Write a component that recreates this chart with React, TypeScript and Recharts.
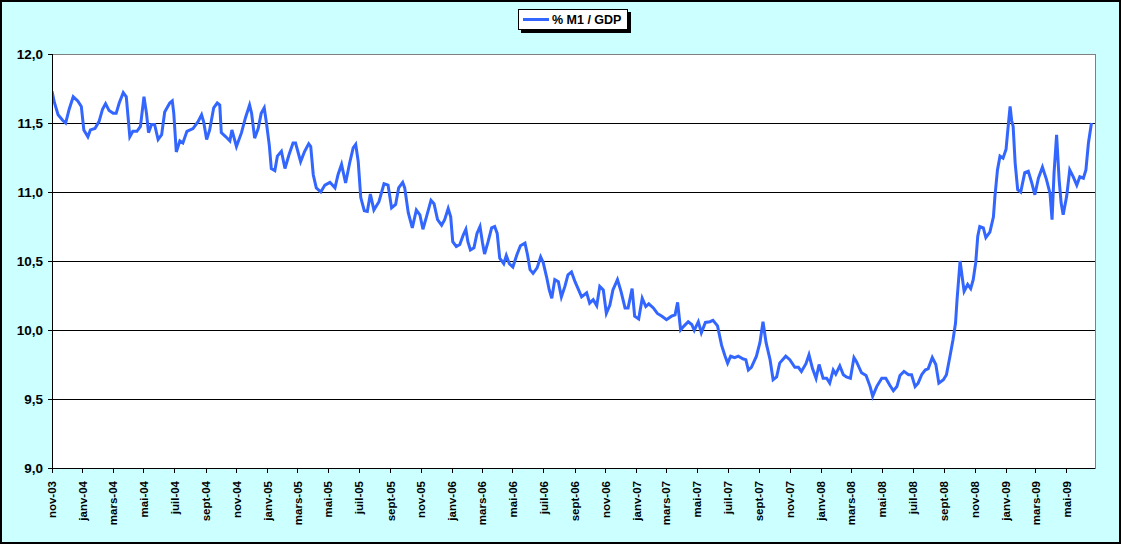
import React from "react";
import {
  LineChart,
  Line,
  XAxis,
  YAxis,
  ReferenceArea,
  ReferenceLine,
  Legend,
} from "recharts";

// Start date of the series (day 0) : 1 November 2003
const START_UTC = Date.UTC(2003, 10, 1);
const END_DAY = 2064;

// Observation dates, in days since 1 Nov 2003
const dayOffsets = [
  0, 5, 12, 21, 27, 34, 42, 51, 58, 63, 71, 76, 85, 93, 100, 106, 113, 121, 127, 133,
  141, 147, 154, 160, 168, 175, 182, 187, 191, 197, 203, 210, 217, 223, 233, 238, 241, 246, 253, 259,
  267, 279, 289, 296, 300, 306, 312, 320, 327, 332, 335, 344, 352, 356, 365, 375, 383, 391, 395, 401,
  408, 414, 420, 424, 430, 434, 441, 446, 454, 461, 469, 477, 482, 492, 500, 508, 512, 517, 523, 532,
  540, 550, 560, 566, 573, 581, 589, 596, 601, 606, 611, 618, 624, 630, 637, 647, 657, 665, 672, 680,
  686, 694, 698, 705, 713, 721, 728, 734, 741, 750, 756, 763, 771, 777, 784, 789, 793, 800, 807, 814,
  819, 823, 828, 835, 841, 847, 852, 856, 863, 870, 876, 881, 886, 894, 899, 905, 912, 920, 927, 936,
  941, 946, 952, 960, 967, 972, 979, 984, 989, 995, 1002, 1008, 1015, 1021, 1028, 1035, 1041, 1048, 1058, 1064,
  1071, 1078, 1084, 1091, 1097, 1104, 1110, 1119, 1126, 1134, 1140, 1148, 1153, 1161, 1168, 1175, 1181, 1190, 1198, 1207,
  1216, 1226, 1233, 1238, 1244, 1251, 1259, 1266, 1271, 1279, 1285, 1293, 1302, 1308, 1317, 1325, 1332, 1337, 1343, 1351,
  1358, 1368, 1373, 1378, 1384, 1394, 1401, 1407, 1413, 1421, 1427, 1434, 1440, 1452, 1460, 1470, 1477, 1483, 1492, 1498,
  1505, 1512, 1518, 1526, 1533, 1539, 1546, 1551, 1559, 1566, 1572, 1580, 1587, 1592, 1602, 1611, 1619, 1624, 1632, 1642,
  1650, 1658, 1665, 1672, 1678, 1686, 1695, 1701, 1708, 1714, 1721, 1728, 1734, 1742, 1749, 1755, 1764, 1770, 1777, 1783,
  1788, 1791, 1797, 1801, 1805, 1812, 1818, 1823, 1828, 1832, 1836, 1843, 1848, 1856, 1863, 1866, 1871, 1876, 1882, 1888,
  1891, 1896, 1899, 1902, 1906, 1911, 1917, 1925, 1932, 1939, 1945, 1952, 1960, 1968, 1975, 1979, 1983, 1988, 1993, 1997,
  2001, 2008, 2014, 2021, 2028, 2034, 2041, 2046, 2051, 2057,
];

// % M1 / GDP
const m1GdpValues = [
  11.73, 11.645, 11.56, 11.52, 11.5, 11.6, 11.69, 11.66, 11.62, 11.45, 11.4, 11.45, 11.46, 11.51, 11.6, 11.64, 11.59, 11.57, 11.57, 11.645,
  11.72, 11.69, 11.4, 11.44, 11.44, 11.475, 11.69, 11.57, 11.43, 11.49, 11.49, 11.38, 11.415, 11.58, 11.645, 11.66, 11.57, 11.29, 11.37, 11.355,
  11.44, 11.46, 11.51, 11.56, 11.51, 11.38, 11.45, 11.61, 11.645, 11.63, 11.43, 11.4, 11.37, 11.45, 11.33, 11.43, 11.54, 11.63, 11.57, 11.39,
  11.46, 11.57, 11.61, 11.51, 11.34, 11.17, 11.155, 11.26, 11.295, 11.17, 11.27, 11.355, 11.355, 11.22, 11.295, 11.35, 11.33, 11.125, 11.03, 11.0,
  11.05, 11.07, 11.03, 11.125, 11.2, 11.065, 11.21, 11.32, 11.345, 11.22, 10.96, 10.865, 10.86, 10.985, 10.87, 10.93, 11.06, 11.05, 10.885, 10.91,
  11.03, 11.07, 11.03, 10.85, 10.74, 10.87, 10.835, 10.73, 10.82, 10.94, 10.915, 10.8, 10.76, 10.8, 10.88, 10.82, 10.64, 10.605, 10.62, 10.69,
  10.73, 10.64, 10.58, 10.595, 10.7, 10.75, 10.63, 10.55, 10.64, 10.74, 10.75, 10.7, 10.52, 10.48, 10.54, 10.48, 10.456, 10.545, 10.61, 10.63,
  10.545, 10.437, 10.41, 10.45, 10.53, 10.49, 10.38, 10.29, 10.23, 10.365, 10.35, 10.24, 10.316, 10.4, 10.42, 10.35, 10.3, 10.24, 10.27, 10.195,
  10.22, 10.176, 10.316, 10.29, 10.12, 10.18, 10.29, 10.365, 10.28, 10.16, 10.16, 10.3, 10.1, 10.08, 10.23, 10.17, 10.19, 10.16, 10.12, 10.1,
  10.075, 10.1, 10.11, 10.2, 10.0, 10.03, 10.06, 10.04, 9.997, 10.06, 9.98, 10.055, 10.06, 10.07, 10.03, 9.89, 9.81, 9.76, 9.81, 9.8,
  9.81, 9.79, 9.785, 9.71, 9.73, 9.81, 9.91, 10.06, 9.91, 9.785, 9.64, 9.66, 9.76, 9.81, 9.785, 9.73, 9.73, 9.7, 9.756, 9.82,
  9.72, 9.65, 9.75, 9.65, 9.65, 9.615, 9.71, 9.68, 9.74, 9.676, 9.66, 9.65, 9.8, 9.77, 9.69, 9.67, 9.59, 9.52, 9.59, 9.65,
  9.65, 9.6, 9.56, 9.59, 9.67, 9.7, 9.676, 9.676, 9.59, 9.615, 9.676, 9.71, 9.72, 9.8, 9.75, 9.615, 9.64, 9.676, 9.81, 9.93,
  10.05, 10.22, 10.5, 10.39, 10.28, 10.33, 10.3, 10.365, 10.49, 10.68, 10.75, 10.74, 10.67, 10.71, 10.82, 10.97, 11.16, 11.26, 11.245, 11.31,
  11.43, 11.62, 11.52, 11.475, 11.21, 11.017, 11.0, 11.14, 11.15, 11.065, 10.98, 11.1, 11.18, 11.09, 10.99, 10.8, 11.14, 11.415, 11.09, 10.92,
  10.835, 10.97, 11.16, 11.11, 11.05, 11.11, 11.1, 11.16, 11.355, 11.5,
];

// X tick labels, one every two months from nov-03
const tickLabels = [
  "nov-03",
  "janv-04", "mars-04", "mai-04", "juil-04", "sept-04", "nov-04",
  "janv-05", "mars-05", "mai-05", "juil-05", "sept-05", "nov-05",
  "janv-06", "mars-06", "mai-06", "juil-06", "sept-06", "nov-06",
  "janv-07", "mars-07", "mai-07", "juil-07", "sept-07", "nov-07",
  "janv-08", "mars-08", "mai-08", "juil-08", "sept-08", "nov-08",
  "janv-09", "mars-09", "mai-09",
];

const yTicks = [9, 9.5, 10, 10.5, 11, 11.5, 12];
const gridValues = [9.5, 10, 10.5, 11, 11.5];

const SERIES_NAME = "% M1 / GDP";
const LINE_COLOR = "#3366FF";
const FONT = "'Liberation Sans', Arial, sans-serif";

const tickDays = tickLabels.map((_, i) =>
  Math.round((Date.UTC(2003, 10 + 2 * i, 1) - START_UTC) / 86400000)
);

const data = dayOffsets.map((d, i) => ({ day: d, value: m1GdpValues[i] }));

const XTick = (props: any) => {
  const { x, y, payload } = props;
  const idx = tickDays.indexOf(payload.value);
  const label = idx >= 0 ? tickLabels[idx] : "";
  return (
    <g transform={`translate(${x},${y + 6})`}>
      <text
        transform="rotate(-90)"
        textAnchor="end"
        dominantBaseline="central"
        fontSize={11.5}
        fontWeight="bold"
        fontFamily={FONT}
        fill="#000"
      >
        {label}
      </text>
    </g>
  );
};

const LegendBox = () => (
  <div
    style={{
      background: "#fff",
      border: "1px solid #000",
      boxShadow: "3px 3px 0 #000",
      height: 21,
      width: 110,
      display: "flex",
      alignItems: "center",
      boxSizing: "border-box",
      paddingLeft: 4,
      fontFamily: FONT,
      fontWeight: "bold",
      fontSize: 12.5,
      color: "#000",
      whiteSpace: "nowrap",
    }}
  >
    <span
      style={{
        display: "inline-block",
        width: 26,
        height: 3,
        background: LINE_COLOR,
        marginRight: 3,
      }}
    />
    {SERIES_NAME}
  </div>
);

export default function App() {
  return (
    <div
      style={{
        position: "absolute",
        left: 0,
        top: 0,
        width: 1121,
        height: 544,
        background: "#CCFFFF",
        overflow: "hidden",
      }}
    >
      <LineChart
        width={1121}
        height={544}
        data={data}
        margin={{ top: 54, right: 26, bottom: 0, left: 0 }}
      >
        <ReferenceArea
          x1={0}
          x2={END_DAY}
          y1={9}
          y2={12}
          fill="#ffffff"
          fillOpacity={1}
          stroke="#808080"
          strokeWidth={1}
          shapeRendering="crispEdges"
        />
        {gridValues.map((v) => (
          <ReferenceLine
            key={v}
            y={v}
            stroke="#000"
            strokeWidth={1}
            shapeRendering="crispEdges"
          />
        ))}
        <XAxis
          dataKey="day"
          type="number"
          domain={[0, END_DAY]}
          ticks={tickDays}
          interval={0}
          height={76}
          tick={<XTick />}
          tickSize={5}
          axisLine={{ stroke: "#000", strokeWidth: 1, shapeRendering: "crispEdges" }}
          tickLine={{ stroke: "#000", strokeWidth: 1, shapeRendering: "crispEdges" }}
          allowDataOverflow
        />
        <YAxis
          type="number"
          domain={[9, 12]}
          ticks={yTicks}
          interval={0}
          width={52}
          tickSize={4}
          tickMargin={5}
          tickFormatter={(v: number) => v.toFixed(1).replace(".", ",")}
          tick={{ fill: "#000", fontSize: 13.5, fontWeight: "bold", fontFamily: FONT }}
          axisLine={{ stroke: "#000", strokeWidth: 1, shapeRendering: "crispEdges" }}
          tickLine={{ stroke: "#000", strokeWidth: 1, shapeRendering: "crispEdges" }}
          allowDataOverflow
        />
        <Legend
          layout="horizontal"
          verticalAlign="middle"
          align="center"
          wrapperStyle={{ top: 9, left: 518, width: 113 }}
          content={<LegendBox />}
        />
        <Line
          type="linear"
          dataKey="value"
          name={SERIES_NAME}
          stroke={LINE_COLOR}
          strokeWidth={3}
          dot={false}
          activeDot={false}
          isAnimationActive={false}
        />
      </LineChart>
      <div
        style={{
          position: "absolute",
          left: 0,
          top: 0,
          width: 1121,
          height: 544,
          boxSizing: "border-box",
          border: "2px solid #000",
          pointerEvents: "none",
        }}
      />
    </div>
  );
}
